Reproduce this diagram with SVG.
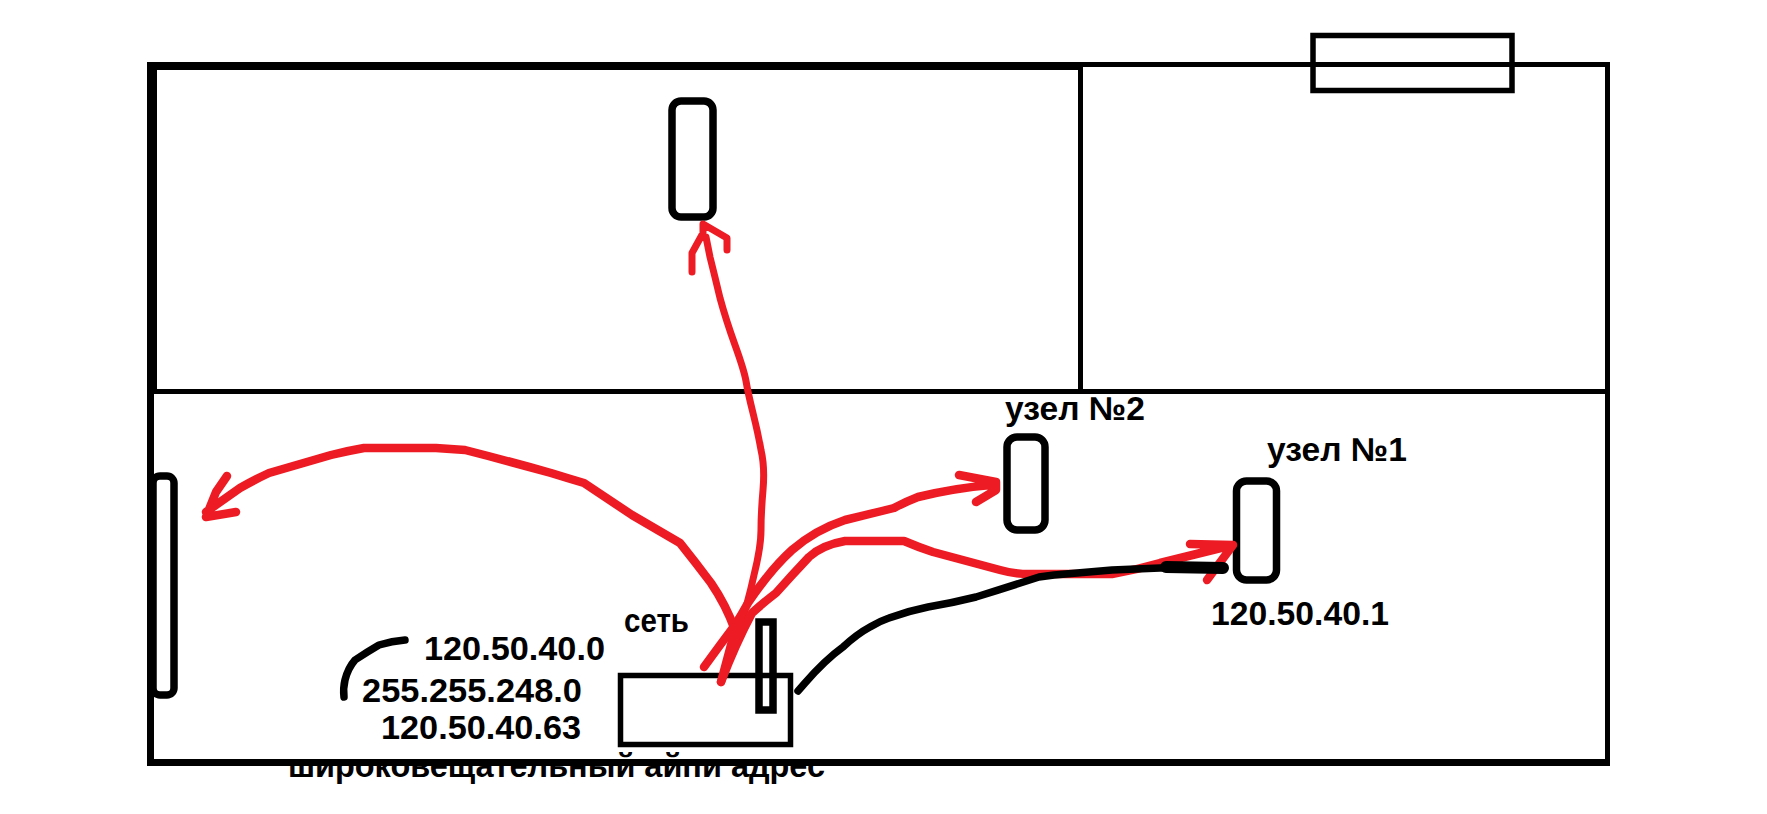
<svg xmlns="http://www.w3.org/2000/svg" width="1767" height="814" viewBox="0 0 1767 814">
<style>
.lbl{font-family:"Liberation Sans",Arial,sans-serif;font-weight:700;font-size:33px;fill:#000}
.wall{fill:#000}
.box{fill:none;stroke:#000;stroke-width:5.500}
.dev{fill:none;stroke:#000;stroke-width:7.500}
.red{fill:none;stroke:#ed1c24;stroke-width:8.500;stroke-linecap:round;stroke-linejoin:round}
.redthin{stroke-width:7}
.ink{fill:none;stroke:#000;stroke-width:7.500;stroke-linecap:round;stroke-linejoin:round}
.inkthick{stroke-width:12}
</style>
<rect width="1767" height="814" fill="#fff"/>
<g id="labels">
<text class="lbl" x="424" y="660" textLength="181" lengthAdjust="spacingAndGlyphs">120.50.40.0</text>
<text class="lbl" x="362" y="702" textLength="220" lengthAdjust="spacingAndGlyphs">255.255.248.0</text>
<text class="lbl" x="381" y="739" textLength="200" lengthAdjust="spacingAndGlyphs">120.50.40.63</text>
<text class="lbl" x="624" y="632" textLength="65" lengthAdjust="spacingAndGlyphs">сеть</text>
<text class="lbl" x="288" y="777" textLength="537" lengthAdjust="spacingAndGlyphs">широковещательный айпи адрес</text>
<text class="lbl" x="1005" y="420" textLength="140" lengthAdjust="spacingAndGlyphs">узел №2</text>
<text class="lbl" x="1267" y="461" textLength="140" lengthAdjust="spacingAndGlyphs">узел №1</text>
<text class="lbl" x="1211" y="625" textLength="178" lengthAdjust="spacingAndGlyphs">120.50.40.1</text>
</g>
<g id="building">
<rect class="wall" x="147" y="62" width="934" height="8"/>
<rect class="wall" x="1081" y="62" width="529" height="5"/>
<rect class="wall" x="147" y="62" width="10" height="330"/>
<rect class="wall" x="147" y="390" width="7" height="376"/>
<rect class="wall" x="147" y="759" width="1463" height="7"/>
<rect class="wall" x="1605" y="62" width="5" height="704"/>
<rect class="wall" x="150" y="389" width="1460" height="5"/>
<rect class="wall" x="1078" y="62" width="5" height="328"/>
</g>
<g id="window"><rect class="box" x="1313" y="35.500" width="199" height="55"/></g>
<g id="node-top"><rect class="dev" x="672" y="101" width="41" height="116" rx="9"/></g>
<g id="node-left"><rect class="dev" x="153" y="476" width="21" height="219" rx="7"/></g>
<g id="node-2"><rect class="dev" x="1007" y="437" width="38" height="93" rx="10"/></g>
<g id="node-1"><rect class="dev" x="1236.500" y="481" width="40" height="99" rx="10"/></g>
<g id="router"><rect class="box" x="620.500" y="675.500" width="170" height="69"/></g>
<g id="antenna"><rect class="dev" x="759" y="622" width="14" height="88"/></g>
<g id="connectors">
<path class="ink" d="M405 640Q392 641 379 645Q367 652 355 660Q348 668 345 680Q343 688 344 697"/>
<path class="red redthin" d="M706 237L710 257Q715 277 720 298Q726 320 735 345Q744 370 746 381Q748 393 753 413Q758 433 761 450Q765 467 763 490Q761 513 761 530Q761 547 754 575Q748 603 738 633Q729 663 721 682M692 272L692 253L703 233L703 224L727 238L727 250"/>
<path class="red" d="M721 682L735 630Q726 605 711 583Q696 563 680 543Q656 529 632 515Q608 499 584 483Q567 478 551 473Q508 461 465 450Q450 449 436 448L364 448Q347 451 331 455Q300 464 269 473Q254 480 240 488Q223 500 206 512M227 476L216 492L206 517L236 512"/>
<path class="red" d="M704 667Q720 645 735 625Q742 614 748 603Q770 570 792 550Q815 530 845 520Q870 514 894 508Q905 502 918 497Q955 488 991 485M959 475L996 482L996 490L976 502"/>
<path class="red" d="M721 682Q735 645 752 613Q763 603 776 593Q792 575 809 557Q822 545 845 541L904 541Q918 547 933 552L1000 570Q1014 574 1030 574L1112 574Q1136 570 1160 563L1233 545M1190 544L1233 545L1207 580"/>
<path class="ink" d="M798 691L805 683Q825 660 843 647Q857 634 870 627Q880 621 889 618Q908 611 928 607Q952 603 976 597Q1008 587 1039 577L1054 575L1112 570L1160 568L1223 568"/>
<path class="ink inkthick" d="M1166 567L1223 568"/>
</g>
</svg>
